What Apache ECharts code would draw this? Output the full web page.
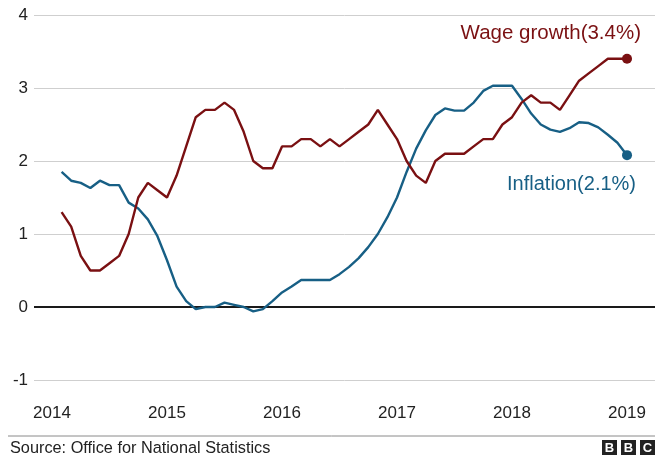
<!DOCTYPE html>
<html>
<head>
<meta charset="utf-8">
<script src="https://cdn.jsdelivr.net/npm/echarts@6/dist/echarts.min.js"></script>
<style>
html,body{margin:0;padding:0;background:#fff;}
#c{width:655px;height:458px;}
</style>
</head>
<body>
<div id="c"></div>
<script>
// month index: 0 = Jan 2014
const months = [1,2,3,4,5,6,7,8,9,10,11,12,13,14,15,16,17,18,19,20,21,22,23,24,25,26,27,28,29,30,
  31,32,33,34,35,36,37,38,39,40,41,42,43,44,45,46,47,48,49,50,51,52,53,54,55,56,57,58,59,60];
const yearTickPositions = [0, 12, 24, 36, 48, 60];
const yearLabels = ['2014', '2015', '2016', '2017', '2018', '2019'];
const wageGrowth = [1.3,1.1,0.7,0.5,0.5,0.6,0.7,1.0,1.5,1.7,1.6,1.5,1.8,2.2,2.6,2.7,2.7,2.8,2.7,2.4,
  2.0,1.9,1.9,2.2,2.2,2.3,2.3,2.2,2.3,2.2,2.3,2.4,2.5,2.7,2.5,2.3,2.0,1.8,1.7,2.0,
  2.1,2.1,2.1,2.2,2.3,2.3,2.5,2.6,2.8,2.9,2.8,2.8,2.7,2.9,3.1,3.2,3.3,3.4,3.4,3.4];
const inflation = [1.85,1.73,1.70,1.63,1.73,1.67,1.67,1.43,1.35,1.2,0.97,0.64,0.28,0.08,-0.03,0.0,0.0,0.06,0.03,0.0,
  -0.06,-0.03,0.08,0.2,0.28,0.37,0.37,0.37,0.37,0.45,0.55,0.67,0.82,1.0,1.23,1.5,1.85,2.17,2.42,2.63,
  2.72,2.69,2.69,2.8,2.96,3.03,3.03,3.03,2.85,2.65,2.5,2.43,2.40,2.45,2.53,2.52,2.46,2.36,2.25,2.08];
const seriesNames = ['Wage growth', 'Inflation'];
const endLabels = ['Wage growth(3.4%)', 'Inflation(2.1%)'];
const yTicks = [-1, 0, 1, 2, 3, 4];
const sourceText = 'Source: Office for National Statistics';

const WAGE_COLOR = '#7a1012';
const INF_COLOR = '#175f85';
const FONT = '"Liberation Sans", Arial, Helvetica, sans-serif';

const zip = (xs, ys) => xs.map((x, i) => [x, ys[i]]);
const wageData = zip(months, wageGrowth);
const infData = zip(months, inflation);

const chart = echarts.init(document.getElementById('c'), null, {renderer: 'canvas'});
chart.setOption({
  animation: false,
  backgroundColor: '#fff',
  textStyle: {fontFamily: FONT},
  grid: {left: 34, right: 0, top: 15, bottom: 78, containLabel: false},
  xAxis: {
    type: 'value',
    min: -1.88,
    max: 62.92,
    axisLine: {show: false},
    axisTick: {show: false},
    splitLine: {show: false},
    axisLabel: {
      customValues: yearTickPositions,
      formatter: v => yearLabels[yearTickPositions.indexOf(Math.round(v))] || '',
      fontSize: 17,
      color: '#222',
      margin: 25,
      fontFamily: FONT
    }
  },
  yAxis: {
    type: 'value',
    min: yTicks[0],
    max: yTicks[yTicks.length - 1],
    interval: 1,
    axisLine: {show: false},
    axisTick: {show: false},
    axisLabel: {fontSize: 17, color: '#222', margin: 6, fontFamily: FONT},
    splitLine: {lineStyle: {color: '#cfcfcf', width: 1}}
  },
  series: [
    {
      name: seriesNames[1],
      type: 'line',
      data: infData,
      showSymbol: false,
      symbol: 'none',
      lineStyle: {color: INF_COLOR, width: 2.4},
      itemStyle: {color: INF_COLOR},
      z: 3,
      markLine: {
        silent: true,
        symbol: 'none',
        label: {show: false},
        lineStyle: {color: '#1a1a1a', width: 2, type: 'solid'},
        data: [{yAxis: 0}],
        z: 2
      },
      markPoint: {
        silent: true,
        data: [{
          coord: infData[infData.length - 1],
          symbol: 'circle',
          symbolSize: 10,
          itemStyle: {color: INF_COLOR},
          label: {
            show: true,
            position: 'inside',
            formatter: endLabels[1],
            align: 'right',
            verticalAlign: 'middle',
            offset: [9, 29],
            color: INF_COLOR,
            fontSize: 20,
            fontFamily: FONT
          }
        }]
      }
    },
    {
      name: seriesNames[0],
      type: 'line',
      data: wageData,
      showSymbol: false,
      symbol: 'none',
      lineStyle: {color: WAGE_COLOR, width: 2.4},
      itemStyle: {color: WAGE_COLOR},
      z: 4,
      markPoint: {
        silent: true,
        data: [{
          coord: wageData[wageData.length - 1],
          symbol: 'circle',
          symbolSize: 10,
          itemStyle: {color: WAGE_COLOR},
          label: {
            show: true,
            position: 'inside',
            formatter: endLabels[0],
            align: 'right',
            verticalAlign: 'middle',
            offset: [14, -25],
            color: WAGE_COLOR,
            fontSize: 20.5,
            fontFamily: FONT
          }
        }]
      }
    }
  ],
  graphic: [
    {type: 'line', shape: {x1: 8, y1: 436, x2: 655, y2: 436}, style: {stroke: '#8a8a8a', lineWidth: 1}},
    {type: 'text', left: 10, top: 441, style: {text: sourceText, font: '16.3px ' + FONT, fill: '#222'}},
    {type: 'group', left: 602, top: 440, children: [
      {type: 'rect', shape: {x: 0, y: 0, width: 15, height: 15}, style: {fill: '#222'}},
      {type: 'rect', shape: {x: 19, y: 0, width: 15, height: 15}, style: {fill: '#222'}},
      {type: 'rect', shape: {x: 38, y: 0, width: 15, height: 15}, style: {fill: '#222'}},
      {type: 'text', x: 7.5, y: 8, style: {text: 'B', font: 'bold 13px ' + FONT, fill: '#fff', align: 'center', verticalAlign: 'middle'}},
      {type: 'text', x: 26.5, y: 8, style: {text: 'B', font: 'bold 13px ' + FONT, fill: '#fff', align: 'center', verticalAlign: 'middle'}},
      {type: 'text', x: 45.5, y: 8, style: {text: 'C', font: 'bold 13px ' + FONT, fill: '#fff', align: 'center', verticalAlign: 'middle'}}
    ]}
  ]
});
</script>
</body>
</html>
